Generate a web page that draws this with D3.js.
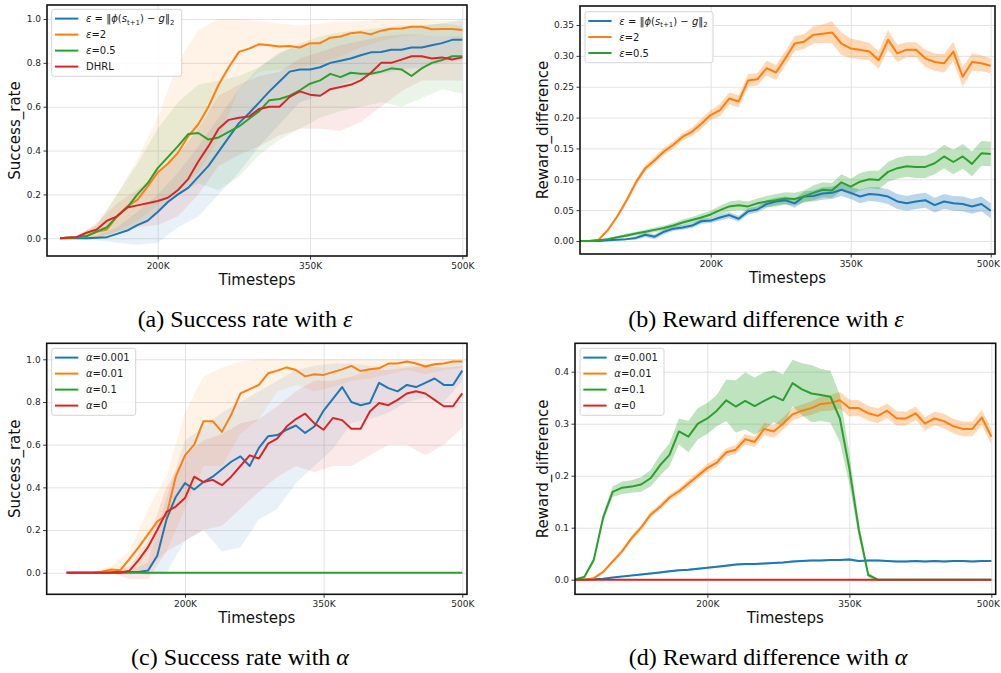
<!DOCTYPE html>
<html><head><meta charset="utf-8">
<script src="https://cdn.jsdelivr.net/npm/d3@7"></script>
<style>body{margin:0;background:#fff}svg{display:block}text{white-space:pre}</style>
</head><body><svg id="c" width="1001" height="673"></svg>
<script>
// ---------- shared tick labels ----------
const xTickVals = [200, 350, 500];
const xTickLabels = ['200K', '350K', '500K'];
const yTicksA = [0, 0.2, 0.4, 0.6, 0.8, 1.0];
const yTicksB = [0, 0.05, 0.1, 0.15, 0.2, 0.25, 0.3, 0.35];
const yTicksC = [0, 0.2, 0.4, 0.6, 0.8, 1.0];
const yTicksD = [0, 0.1, 0.2, 0.3, 0.4];

// ---------- legend labels ----------
const legendA = ['*ε* = ‖*ϕ*(*s*_{t+1}) − *g*‖_{2}', '*ε*=2', '*ε*=0.5', 'DHRL'];
const legendB = ['*ε* = ‖*ϕ*(*s*_{t+1}) − *g*‖_{2}', '*ε*=2', '*ε*=0.5'];
const legendC = ['*α*=0.001', '*α*=0.01', '*α*=0.1', '*α*=0'];
const legendD = ['*α*=0.001', '*α*=0.01', '*α*=0.1', '*α*=0'];
const captions = ['(a) Success rate with *ε*', '(b) Reward difference with *ε*', '(c) Success rate with *α*', '(d) Reward difference with *α*'];

// ---------- panel (a) : success rate, epsilon ----------
const xA = [104,110,120,130,140,150,160,170,180,190,200,210,220,230,240,250,260,270,280,290,300,310,320,330,340,350,360,370,380,390,400,410,420,430,440,450,460,470,480,490,500];
const aBlue = [0,0,0,0,0.002,0.005,0.02,0.035,0.06,0.08,0.12,0.165,0.2,0.23,0.28,0.33,0.395,0.46,0.525,0.57,0.62,0.67,0.715,0.76,0.77,0.77,0.78,0.8,0.81,0.82,0.835,0.848,0.85,0.86,0.86,0.87,0.87,0.88,0.89,0.905,0.905];
const aOrange = [0,0.002,0.005,0.01,0.03,0.04,0.1,0.145,0.175,0.235,0.3,0.34,0.39,0.465,0.52,0.6,0.7,0.78,0.85,0.865,0.885,0.88,0.875,0.877,0.87,0.89,0.89,0.915,0.92,0.935,0.94,0.93,0.947,0.956,0.957,0.965,0.965,0.953,0.955,0.955,0.95];
const aGreen = [0,0.002,0.005,0.01,0.03,0.05,0.1,0.14,0.2,0.25,0.32,0.37,0.42,0.475,0.48,0.45,0.46,0.485,0.51,0.545,0.58,0.63,0.635,0.65,0.675,0.705,0.72,0.75,0.735,0.755,0.75,0.75,0.76,0.775,0.77,0.74,0.775,0.8,0.813,0.83,0.83];
const aRed = [0,0.002,0.005,0.025,0.04,0.08,0.1,0.14,0.15,0.16,0.17,0.185,0.22,0.27,0.35,0.42,0.5,0.54,0.55,0.555,0.59,0.6,0.6,0.645,0.67,0.655,0.65,0.68,0.69,0.7,0.72,0.755,0.8,0.8,0.815,0.83,0.83,0.82,0.825,0.815,0.825];
const xAb = [104,120,140,160,180,200,220,240,260,280,300,320,340,360,380,400,420,440,460,480,500];
const aBlueLo = [0,-0.005,-0.01,-0.02,-0.03,-0.02,0.05,0.1,0.2,0.3,0.42,0.52,0.62,0.65,0.7,0.73,0.75,0.77,0.78,0.8,0.81];
const aBlueHi = [0,0.005,0.01,0.05,0.12,0.2,0.3,0.42,0.55,0.68,0.78,0.85,0.88,0.9,0.92,0.93,0.95,0.96,0.97,0.98,1.0];
const aOrangeLo = [0,0,0,0.03,0.08,0.15,0.22,0.3,0.45,0.68,0.76,0.77,0.78,0.8,0.83,0.87,0.9,0.92,0.93,0.92,0.91];
const aOrangeHi = [0,0.01,0.06,0.2,0.36,0.55,0.8,0.95,1.0,1.0,0.99,0.98,0.97,0.98,0.99,0.99,1.0,1.0,1.0,0.99,0.99];
const aGreenLo = [0,0,0,0.02,0.06,0.12,0.2,0.25,0.22,0.28,0.38,0.45,0.5,0.55,0.58,0.6,0.62,0.6,0.64,0.68,0.66];
const aGreenHi = [0,0.01,0.06,0.2,0.34,0.5,0.62,0.7,0.72,0.74,0.78,0.84,0.89,0.92,0.94,0.95,0.96,0.97,0.97,0.98,0.97];
const aRedLo = [0,0,0,0.03,0.05,0.06,0.1,0.2,0.33,0.38,0.42,0.47,0.5,0.5,0.49,0.53,0.6,0.67,0.72,0.72,0.72];
const aRedHi = [0,0.01,0.07,0.16,0.22,0.3,0.38,0.5,0.65,0.7,0.74,0.76,0.82,0.85,0.88,0.9,0.92,0.93,0.93,0.92,0.92];

// ---------- panel (b) : reward difference, epsilon ----------
const xB = [60,70,80,90,100,110,120,130,140,150,160,170,180,190,200,210,220,230,240,250,260,270,280,290,300,310,320,330,340,350,360,370,380,390,400,410,420,430,440,450,460,470,480,490,500];
const bBlue = [0,0,0,0.001,0.002,0.003,0.005,0.01,0.007,0.015,0.02,0.022,0.025,0.032,0.033,0.038,0.042,0.036,0.048,0.051,0.06,0.064,0.066,0.061,0.072,0.073,0.077,0.078,0.083,0.078,0.072,0.076,0.075,0.072,0.064,0.061,0.064,0.066,0.058,0.064,0.061,0.06,0.056,0.06,0.049];
const bBlueStd = [0,0,0.001,0.001,0.001,0.001,0.003,0.004,0.004,0.004,0.004,0.004,0.004,0.004,0.004,0.005,0.005,0.005,0.005,0.005,0.006,0.006,0.006,0.007,0.008,0.009,0.01,0.01,0.01,0.01,0.011,0.011,0.012,0.012,0.012,0.012,0.012,0.012,0.012,0.012,0.012,0.012,0.012,0.012,0.012];
const bOrange = [0,0,0.002,0.018,0.04,0.066,0.095,0.118,0.131,0.145,0.156,0.169,0.177,0.19,0.204,0.212,0.231,0.226,0.26,0.262,0.28,0.273,0.296,0.32,0.323,0.334,0.336,0.338,0.32,0.312,0.31,0.307,0.293,0.326,0.304,0.31,0.31,0.296,0.29,0.288,0.307,0.266,0.29,0.288,0.284];
const bOrangeStd = [0,0,0.001,0.002,0.003,0.004,0.005,0.005,0.006,0.006,0.006,0.006,0.007,0.008,0.008,0.01,0.01,0.01,0.01,0.01,0.012,0.012,0.012,0.012,0.012,0.014,0.015,0.018,0.018,0.016,0.015,0.014,0.014,0.016,0.014,0.012,0.012,0.014,0.014,0.015,0.016,0.016,0.014,0.013,0.012];
const bGreen = [0,0,0.001,0.003,0.006,0.009,0.012,0.015,0.018,0.021,0.025,0.03,0.034,0.038,0.043,0.05,0.056,0.058,0.056,0.061,0.064,0.066,0.069,0.068,0.072,0.078,0.083,0.082,0.095,0.088,0.096,0.1,0.099,0.112,0.118,0.121,0.12,0.12,0.126,0.137,0.128,0.137,0.125,0.142,0.141];
const bGreenStd = [0,0,0.001,0.002,0.002,0.003,0.003,0.003,0.004,0.004,0.004,0.005,0.005,0.006,0.006,0.007,0.008,0.008,0.008,0.008,0.009,0.01,0.01,0.01,0.01,0.012,0.012,0.012,0.013,0.013,0.014,0.014,0.015,0.016,0.017,0.017,0.018,0.018,0.018,0.019,0.02,0.02,0.02,0.02,0.02];

// ---------- panel (c) : success rate, alpha ----------
const xC = [72,80,90,100,110,120,130,140,150,160,170,180,190,200,210,220,230,240,250,260,270,280,290,300,310,320,330,340,350,360,370,380,390,400,410,420,430,440,450,460,470,480,490,500];
const cBlue = [0,0,0,0,0,0.002,0.005,0.003,0.003,0.01,0.08,0.25,0.355,0.42,0.39,0.425,0.45,0.485,0.52,0.545,0.5,0.585,0.64,0.645,0.67,0.69,0.655,0.685,0.76,0.815,0.87,0.8,0.785,0.795,0.89,0.865,0.85,0.88,0.87,0.89,0.91,0.88,0.88,0.947];
const cOrange = [0,0,0,0,0.005,0.015,0.012,0.065,0.12,0.18,0.24,0.27,0.45,0.55,0.6,0.71,0.71,0.66,0.74,0.84,0.86,0.88,0.935,0.947,0.962,0.95,0.92,0.93,0.927,0.94,0.953,0.969,0.945,0.953,0.958,0.98,0.98,0.99,0.98,0.966,0.977,0.98,0.99,0.99];
const cGreen = [0,0,0,0,0,0,0,0,0,0,0,0,0,0,0,0,0,0,0,0,0,0,0,0,0,0,0,0,0,0,0,0,0,0,0,0,0,0,0,0,0,0,0,0];
const cRed = [0,0,0,0,0,0,0,0.01,0.06,0.12,0.2,0.285,0.31,0.35,0.45,0.425,0.435,0.41,0.45,0.5,0.55,0.535,0.605,0.63,0.685,0.72,0.745,0.7,0.67,0.725,0.715,0.675,0.675,0.755,0.795,0.785,0.81,0.84,0.85,0.84,0.81,0.78,0.78,0.84];
const xCb = [72,100,120,140,160,180,200,220,240,260,280,300,320,340,360,380,400,420,440,460,480,500];
const cBlueLo = [0,0,0,0,-0.01,0.0,0.15,0.2,0.1,0.12,0.25,0.3,0.42,0.5,0.58,0.7,0.72,0.75,0.8,0.82,0.8,0.9];
const cBlueHi = [0,0,0.005,0.005,0.05,0.35,0.62,0.68,0.75,0.8,0.85,0.9,0.95,0.97,0.98,0.98,0.97,0.97,0.97,0.98,0.97,0.99];
const cOrangeLo = [0,0,0,-0.01,0.02,0.1,0.3,0.5,0.5,0.65,0.72,0.85,0.88,0.85,0.87,0.9,0.91,0.93,0.95,0.93,0.95,0.96];
const cOrangeHi = [0,0.005,0.03,0.1,0.3,0.45,0.75,0.92,0.96,0.99,1.0,1.0,1.0,1.0,1.0,1.0,1.0,1.0,1.0,1.0,1.0,1.0];
const cRedLo = [0,0,0,-0.03,-0.03,0.1,0.15,0.2,0.22,0.3,0.38,0.45,0.5,0.47,0.5,0.5,0.55,0.6,0.6,0.55,0.6,0.68];
const cRedHi = [0,0,0,0.03,0.15,0.4,0.55,0.62,0.65,0.7,0.72,0.78,0.85,0.9,0.9,0.92,0.95,0.95,0.96,0.97,0.96,0.97];

// ---------- panel (d) : reward difference, alpha ----------
const xD = [60,70,80,90,100,110,120,130,140,150,160,170,180,190,200,210,220,230,240,250,260,270,280,290,300,310,320,330,340,350,360,370,380,390,400,410,420,430,440,450,460,470,480,490,500];
const dBlue = [0,0,0.001,0.002,0.004,0.006,0.008,0.01,0.012,0.014,0.016,0.018,0.019,0.021,0.023,0.025,0.027,0.029,0.03,0.03,0.031,0.032,0.033,0.035,0.036,0.037,0.037,0.038,0.038,0.039,0.036,0.037,0.037,0.036,0.035,0.035,0.036,0.035,0.036,0.035,0.036,0.036,0.035,0.036,0.036];
const dBlueStd = [0,0,0.001,0.001,0.001,0.001,0.001,0.002,0.002,0.002,0.002,0.002,0.002,0.002,0.002,0.002,0.002,0.002,0.002,0.002,0.002,0.002,0.002,0.002,0.002,0.002,0.002,0.002,0.002,0.002,0.002,0.002,0.002,0.002,0.002,0.002,0.002,0.002,0.002,0.002,0.002,0.002,0.002,0.002,0.002];
const dOrange = [0,0,0.003,0.015,0.035,0.055,0.08,0.1,0.125,0.14,0.158,0.17,0.185,0.2,0.215,0.225,0.245,0.25,0.27,0.265,0.29,0.285,0.3,0.318,0.325,0.33,0.338,0.34,0.345,0.33,0.33,0.32,0.315,0.325,0.31,0.31,0.32,0.3,0.31,0.305,0.295,0.29,0.29,0.312,0.275];
const dOrangeStd = [0,0,0.001,0.002,0.003,0.004,0.005,0.005,0.005,0.006,0.006,0.006,0.007,0.007,0.008,0.008,0.008,0.009,0.01,0.01,0.012,0.012,0.012,0.012,0.012,0.013,0.014,0.015,0.016,0.016,0.015,0.014,0.014,0.014,0.014,0.013,0.013,0.013,0.013,0.014,0.014,0.014,0.014,0.015,0.015];
const dGreen = [0,0.005,0.038,0.12,0.169,0.177,0.179,0.183,0.195,0.22,0.24,0.285,0.275,0.3,0.31,0.325,0.345,0.333,0.344,0.334,0.344,0.353,0.345,0.378,0.366,0.358,0.355,0.352,0.31,0.214,0.096,0.009,0,0,0,0,0,0,0,0,0,0,0,0,0];
const dGreenStd = [0.002,0.003,0.005,0.008,0.01,0.012,0.012,0.014,0.016,0.02,0.022,0.025,0.03,0.03,0.03,0.03,0.04,0.05,0.055,0.055,0.055,0.05,0.05,0.045,0.05,0.055,0.05,0.05,0.045,0.03,0.015,0.005,0.002,0.001,0.001,0.001,0.001,0.001,0.001,0.001,0.001,0.001,0.001,0.001,0.001];
const dRed = [0,0,0,0,0,0,0,0,0,0,0,0,0,0,0,0,0,0,0,0,0,0,0,0,0,0,0,0,0,0,0,0,0,0,0,0,0,0,0,0,0,0,0,0,0];

// ---------- drawing ----------
const COL = {blue: '#1f77b4', orange: '#ff7f0e', green: '#2ca02c', red: '#d62728'};
const SANS = 'DejaVu Sans, sans-serif';
const W = 1001;
const svg = d3.select('#c');
svg.append('rect').attr('width', 1001).attr('height', 673).attr('fill', '#fff');

function rich(textSel, str, subSize, subShift) {
  const parts = str.split(/(\*[^*]+\*|_\{[^}]+\})/).filter(s => s.length);
  let shifted = false;
  parts.forEach(s => {
    const t = textSel.append('tspan');
    if (shifted) { t.attr('dy', -subShift); shifted = false; }
    if (s.startsWith('*')) {
      t.text(s.slice(1, -1)).attr('font-style', 'italic');
    } else if (s.startsWith('_{')) {
      t.text(s.slice(2, -1)).attr('font-size', subSize).attr('dy', subShift);
      shifted = true;
    } else {
      t.text(s);
    }
  });
}

function stdSeries(x, m, s, color) {
  return {x, y: m, bx: x, lo: m.map((v, i) => v - s[i]), hi: m.map((v, i) => v + s[i]), color};
}

const panels = [
  {id: 'a', left: 47, right: 467, top: 5, bottom: 256, xDomain: [91, 504.6], yDomain: [-0.081, 1.064],
   yTicks: yTicksA, yFmt: d3.format('.1f'), ylabel: 'Success_rate', bandOpacity: 0.1,
   series: [
     {x: xA, y: aBlue, bx: xAb, lo: aBlueLo, hi: aBlueHi, color: COL.blue},
     {x: xA, y: aOrange, bx: xAb, lo: aOrangeLo, hi: aOrangeHi, color: COL.orange},
     {x: xA, y: aGreen, bx: xAb, lo: aGreenLo, hi: aGreenHi, color: COL.green},
     {x: xA, y: aRed, bx: xAb, lo: aRedLo, hi: aRedHi, color: COL.red}],
   legend: {labels: legendA, colors: [COL.blue, COL.orange, COL.green, COL.red], x: 51.7, y: 9.3, w: 130},
   ylabelX: 15, xlabelY: 280, caption: captions[0], capX: 245, capY: 327},
  {id: 'b', left: 580, right: 995, top: 6, bottom: 254, xDomain: [60, 504.6], yDomain: [-0.0211, 0.3808],
   yTicks: yTicksB, yFmt: d3.format('.2f'), ylabel: 'Reward_difference', bandOpacity: 0.3,
   series: [
     stdSeries(xB, bBlue, bBlueStd, COL.blue),
     stdSeries(xB, bOrange, bOrangeStd, COL.orange),
     stdSeries(xB, bGreen, bGreenStd, COL.green)],
   legend: {labels: legendB, colors: [COL.blue, COL.orange, COL.green], x: 585, y: 11.7, w: 128},
   ylabelX: 543, xlabelY: 278, caption: captions[1], capX: 766, capY: 327},
  {id: 'c', left: 46.7, right: 467, top: 343.3, bottom: 594.3, xDomain: [50.4, 505.1], yDomain: [-0.101, 1.075],
   yTicks: yTicksC, yFmt: d3.format('.1f'), ylabel: 'Success_rate', bandOpacity: 0.1,
   series: [
     {x: xC, y: cBlue, bx: xCb, lo: cBlueLo, hi: cBlueHi, color: COL.blue},
     {x: xC, y: cOrange, bx: xCb, lo: cOrangeLo, hi: cOrangeHi, color: COL.orange},
     {x: xC, y: cGreen, color: COL.green},
     {x: xC, y: cRed, bx: xCb, lo: cRedLo, hi: cRedHi, color: COL.red}],
   legend: {labels: legendC, colors: [COL.blue, COL.orange, COL.green, COL.red], x: 51.7, y: 348.3, w: 84},
   ylabelX: 15, xlabelY: 618, caption: captions[2], capX: 240, capY: 665},
  {id: 'd', left: 575, right: 995.7, top: 343.3, bottom: 594.3, xDomain: [60.2, 504.6], yDomain: [-0.0281, 0.4546],
   yTicks: yTicksD, yFmt: d3.format('.1f'), ylabel: 'Reward_difference', bandOpacity: 0.3,
   series: [
     stdSeries(xD, dBlue, dBlueStd, COL.blue),
     stdSeries(xD, dOrange, dOrangeStd, COL.orange),
     stdSeries(xD, dGreen, dGreenStd, COL.green),
     {x: xD, y: dRed, color: COL.red}],
   legend: {labels: legendD, colors: [COL.blue, COL.orange, COL.green, COL.red], x: 580, y: 348.3, w: 84},
   ylabelX: 543, xlabelY: 618, caption: captions[3], capX: 768, capY: 665}
];

panels.forEach(p => {
  const g = svg.append('g');
  const x = d3.scaleLinear().domain(p.xDomain).range([p.left, p.right]);
  const y = d3.scaleLinear().domain(p.yDomain).range([p.bottom, p.top]);
  const w = p.right - p.left, h = p.bottom - p.top;
  const clipId = 'clip-' + p.id;
  svg.append('defs').append('clipPath').attr('id', clipId)
    .append('rect').attr('x', p.left).attr('y', p.top).attr('width', w).attr('height', h);

  // grid
  const gx = g.append('g').attr('transform', `translate(0,${p.bottom})`)
    .call(d3.axisBottom(x).tickValues(xTickVals).tickSize(-h).tickFormat(''));
  const gy = g.append('g').attr('transform', `translate(${p.left},0)`)
    .call(d3.axisLeft(y).tickValues(p.yTicks).tickSize(-w).tickFormat(''));
  [gx, gy].forEach(a => {
    a.select('.domain').remove();
    a.selectAll('line').attr('stroke', '#e3e3e3').attr('stroke-width', 1);
  });

  // data
  const plot = g.append('g').attr('clip-path', `url(#${clipId})`);
  p.series.forEach(s => {
    if (s.lo) {
      const area = d3.area()
        .x((d, i) => x(s.bx[i]))
        .y0((d, i) => y(s.lo[i]))
        .y1((d, i) => y(s.hi[i]));
      plot.append('path').datum(s.lo).attr('d', area)
        .attr('fill', s.color).attr('fill-opacity', p.bandOpacity).attr('stroke', 'none');
    }
  });
  p.series.forEach(s => {
    const line = d3.line().x((d, i) => x(s.x[i])).y(d => y(d));
    plot.append('path').datum(s.y).attr('d', line)
      .attr('fill', 'none').attr('stroke', s.color).attr('stroke-width', 2)
      .attr('stroke-linejoin', 'round').attr('stroke-linecap', 'butt');
  });

  // frame
  g.append('rect').attr('x', p.left).attr('y', p.top).attr('width', w).attr('height', h)
    .attr('fill', 'none').attr('stroke', '#111').attr('stroke-width', 1.6);

  // axes ticks + labels
  const ax = g.append('g').attr('transform', `translate(0,${p.bottom})`)
    .call(d3.axisBottom(x).tickValues(xTickVals).tickSize(3.5).tickPadding(3.2)
      .tickFormat((d, i) => xTickLabels[i]));
  const ay = g.append('g').attr('transform', `translate(${p.left},0)`)
    .call(d3.axisLeft(y).tickValues(p.yTicks).tickSize(3.5).tickPadding(2.5).tickFormat(p.yFmt));
  [ax, ay].forEach(a => {
    a.select('.domain').remove();
    a.selectAll('line').attr('stroke', '#222').attr('stroke-width', 0.9);
    a.selectAll('text').attr('font-family', SANS).attr('font-size', 9).attr('fill', '#262626');
  });
  // keep the last x label inside the page
  ax.selectAll('text').each(function () {
    const b = this.getBBox();
    const tx = x(d3.select(this.parentNode).datum());
    const over = tx + b.x + b.width - (W - 0.5);
    if (over > 0) d3.select(this).attr('dx', -over);
  });

  // axis titles
  g.append('text').attr('x', (p.left + p.right) / 2).attr('y', p.xlabelY).attr('dy', '0.35em')
    .attr('text-anchor', 'middle').attr('font-family', SANS).attr('font-size', 15).attr('fill', '#111')
    .text('Timesteps');
  g.append('text').attr('transform', `translate(${p.ylabelX},${(p.top + p.bottom) / 2}) rotate(-90)`)
    .attr('dy', '0.35em').attr('text-anchor', 'middle').attr('font-family', SANS).attr('font-size', 15)
    .attr('fill', '#111').text(p.ylabel);

  // legend
  const L = p.legend, n = L.labels.length;
  const lg = g.append('g');
  lg.append('rect').attr('x', L.x).attr('y', L.y).attr('width', L.w).attr('height', n * 16 + 3)
    .attr('rx', 2.5).attr('fill', '#fff').attr('fill-opacity', 0.85).attr('stroke', '#d4d4d4').attr('stroke-width', 1);
  L.labels.forEach((lab, i) => {
    const cy = L.y + 9.3 + i * 16;
    lg.append('line').attr('x1', L.x + 3.3).attr('x2', L.x + 26.6).attr('y1', cy).attr('y2', cy)
      .attr('stroke', L.colors[i]).attr('stroke-width', 2);
    const t = lg.append('text').attr('x', L.x + 34.3).attr('y', cy).attr('dy', '0.36em')
      .attr('font-family', SANS).attr('font-size', 10).attr('fill', '#1a1a1a');
    rich(t, lab, 7, 2.6);
  });

  // caption
  const ct = svg.append('text').attr('x', p.capX).attr('y', p.capY).attr('text-anchor', 'middle')
    .attr('font-family', 'Liberation Serif, Times New Roman, serif').attr('font-size', 24).attr('fill', '#000');
  rich(ct, p.caption, 16, 4);
});
</script>
</body></html>
